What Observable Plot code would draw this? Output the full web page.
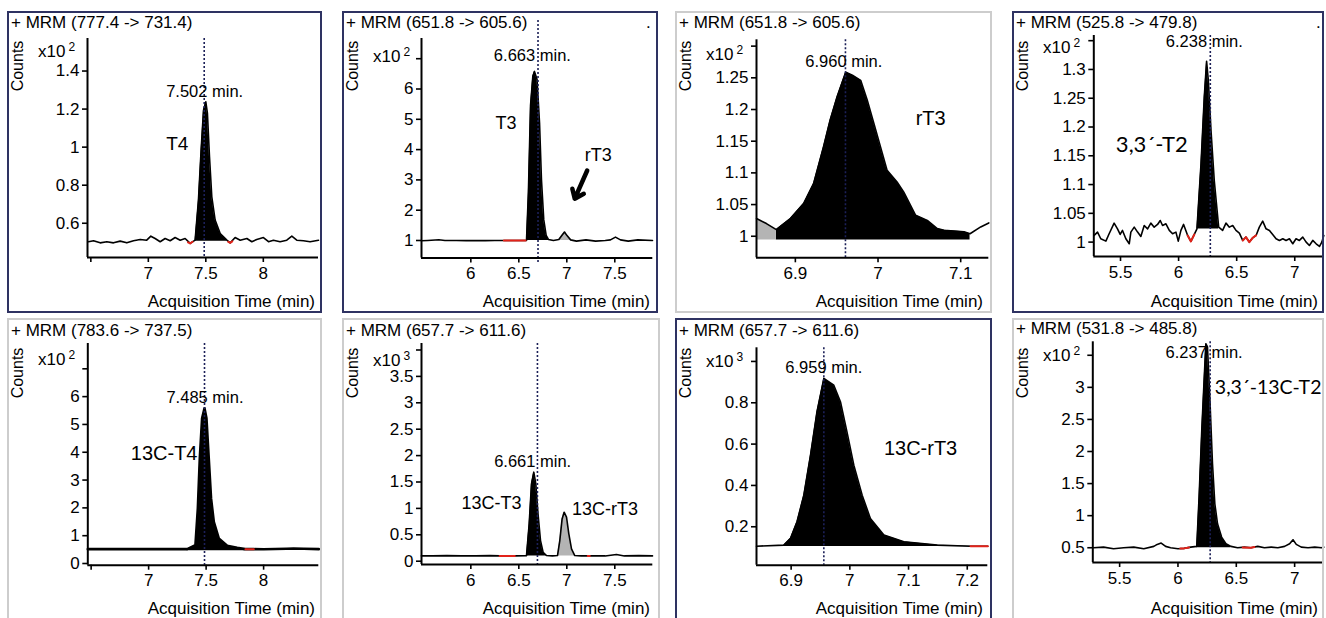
<!DOCTYPE html>
<html><head><meta charset="utf-8">
<script src="https://cdn.jsdelivr.net/npm/d3@7"></script>
<script src="https://cdn.jsdelivr.net/npm/@observablehq/plot@0.6"></script>
<style>
body{margin:0;background:#fff;width:1326px;height:618px;overflow:hidden;position:relative;font-family:"Liberation Sans",Arial,sans-serif;}
.plotwrap{position:absolute;}
.plotwrap svg{overflow:visible;}
.border{position:absolute;box-sizing:border-box;border:2px solid #cdcdcd;pointer-events:none;}
.border.dark{border-color:#2e3262;}
.txt{position:absolute;white-space:nowrap;color:#000;font-size:17px;line-height:17px;}
.counts{position:absolute;white-space:nowrap;font-size:16px;line-height:16px;transform:translate(-50%,-50%) rotate(-90deg);}
.sup{font-size:12px;position:relative;top:-6px;margin-left:3px;}
</style></head>
<body>
<script>
// ---------- text ----------
const headers = ["+ MRM (777.4 -> 731.4)","+ MRM (651.8 -> 605.6)","+ MRM (651.8 -> 605.6)","+ MRM (525.8 -> 479.8)",
                 "+ MRM (783.6 -> 737.5)","+ MRM (657.7 -> 611.6)","+ MRM (657.7 -> 611.6)","+ MRM (531.8 -> 485.8)"];
const exponents = ["2","2","2","2","2","3","3","2"];
const peakLabels = ["7.502 min.","6.663 min.","6.960 min.","6.238 min.","7.485 min.","6.661 min.","6.959 min.","6.237 min."];
const compounds = [["T4"],["T3","rT3"],["rT3"],["3,3´-T2"],["13C-T4"],["13C-T3","13C-rT3"],["13C-rT3"],["3,3´-13C-T2"]];
const axisTitle = "Acquisition Time (min)";

// ---------- data: [time (min), counts] ----------
const p1Trace = [[6.480,0.503],[6.523,0.508],[6.581,0.497],[6.639,0.503],[6.697,0.497],[6.755,0.506],[6.813,0.497],[6.871,0.508],[6.929,0.515],[6.986,0.511],[7.022,0.532],[7.059,0.520],[7.103,0.503],[7.146,0.520],[7.190,0.508],[7.233,0.525],[7.277,0.511],[7.320,0.520],[7.364,0.494],[7.407,0.511],[7.436,0.722],[7.459,0.984],[7.480,1.194],[7.500,1.238],[7.514,1.177],[7.532,0.949],[7.552,0.739],[7.581,0.617],[7.625,0.546],[7.683,0.511],[7.712,0.497],[7.755,0.525],[7.799,0.511],[7.857,0.520],[7.900,0.503],[7.943,0.515],[8.001,0.525],[8.045,0.503],[8.088,0.511],[8.146,0.503],[8.204,0.511],[8.248,0.532],[8.291,0.511],[8.349,0.508],[8.407,0.503],[8.480,0.511]];
const p2Trace = [[5.486,0.99],[5.55,1.0],[5.667,1.022],[5.73,1.0],[5.85,1.0],[5.95,0.995],[6.05,1.0],[6.15,0.995],[6.25,1.0],[6.344,1.0],[6.45,0.998],[6.57,1.0],[6.58,1.0],[6.60,2.6],[6.622,5.45],[6.646,6.42],[6.663,6.58],[6.69,6.31],[6.716,4.88],[6.736,3.0],[6.76,1.68],[6.785,1.17],[6.81,1.03],[6.86,1.0],[6.917,1.03],[6.95,1.17],[6.976,1.28],[7.0,1.17],[7.04,1.02],[7.10,0.98],[7.2,1.02],[7.3,0.98],[7.40,1.0],[7.455,1.02],[7.507,1.11],[7.559,1.02],[7.64,0.98],[7.74,1.02],[7.893,1.0]];
const p3Trace = [[6.853,1.028],[6.865,1.02],[6.877,1.0105],[6.894,1.028],[6.910,1.0515],[6.922,1.083],[6.934,1.141],[6.942,1.183],[6.9505,1.220],[6.961,1.259],[6.969,1.254],[6.979,1.246],[6.987,1.2145],[6.995,1.178],[7.003,1.141],[7.011,1.104],[7.023,1.0857],[7.031,1.070],[7.0455,1.033],[7.0596,1.025],[7.0717,1.012],[7.0798,1.0095],[7.104,1.007],[7.1113,1.004],[7.1242,1.0147],[7.134,1.021]];
const p4Trace = [[5.273,1.0116],[5.302,1.0174],[5.330,1.0058],[5.374,1.0017],[5.402,1.0145],[5.445,1.033],[5.474,1.0231],[5.497,1.0133],[5.517,1.0203],[5.546,1.0058],[5.575,0.9971],[5.589,1.0174],[5.618,1.026],[5.647,1.0174],[5.675,1.0098],[5.704,1.0289],[5.733,1.0231],[5.761,1.033],[5.790,1.026],[5.819,1.0307],[5.842,1.0376],[5.862,1.0289],[5.891,1.0318],[5.920,1.0203],[5.948,1.0145],[5.977,1.0174],[5.997,1.0017],[6.020,1.0203],[6.043,1.0307],[6.078,1.0116],[6.106,1.0012],[6.135,1.0133],[6.158,1.0231],[6.193,1.136],[6.221,1.252],[6.241,1.314],[6.256,1.281],[6.279,1.194],[6.307,1.107],[6.345,1.026],[6.379,1.0203],[6.408,1.033],[6.437,1.026],[6.466,1.0289],[6.494,1.0203],[6.523,1.0156],[6.552,1.0029],[6.580,1.0087],[6.609,1.0],[6.638,1.0075],[6.667,1.0116],[6.695,1.026],[6.724,1.0365],[6.753,1.0231],[6.782,1.0203],[6.810,1.0133],[6.839,1.0058],[6.868,1.0029],[6.897,1.0058],[6.925,1.0029],[6.954,1.0058],[6.983,0.9971],[7.011,1.0058],[7.040,1.0029],[7.069,1.0087],[7.098,1.0],[7.126,0.9942],[7.155,1.0029],[7.184,0.9971],[7.213,0.9925],[7.233,1.0],[7.25,1.0116]];
const p5Trace = [[6.471,0.516],[6.8,0.516],[7.2,0.516],[7.335,0.516],[7.407,0.66],[7.428,1.98],[7.445,3.78],[7.465,5.22],[7.486,5.58],[7.503,5.22],[7.523,3.78],[7.543,2.34],[7.567,1.5],[7.61,0.9],[7.683,0.636],[7.77,0.564],[7.84,0.516],[7.915,0.516],[8.0,0.51],[8.2,0.53],[8.26,0.54],[8.35,0.53],[8.48,0.516]];
const p6Trace = [[5.485,0.10],[5.6,0.1],[5.75,0.105],[5.9,0.1],[6.05,0.1],[6.2,0.105],[6.30,0.1],[6.458,0.1],[6.58,0.105],[6.608,0.707],[6.632,1.465],[6.656,1.686],[6.677,1.465],[6.70,0.896],[6.726,0.39],[6.753,0.17],[6.788,0.107],[6.85,0.1],[6.903,0.107],[6.927,0.39],[6.951,0.80],[6.972,0.928],[6.997,0.833],[7.021,0.518],[7.049,0.234],[7.083,0.107],[7.15,0.1],[7.22,0.1],[7.24,0.1],[7.40,0.1],[7.517,0.126],[7.6,0.1],[7.75,0.105],[7.893,0.1]];
const p7Trace = [[6.841,0.106],[6.8875,0.111],[6.899,0.144],[6.910,0.224],[6.9216,0.353],[6.933,0.547],[6.944,0.756],[6.9557,0.918],[6.9727,0.885],[6.984,0.805],[6.995,0.66],[7.0068,0.498],[7.021,0.353],[7.035,0.24],[7.058,0.16],[7.092,0.127],[7.149,0.111],[7.2055,0.106],[7.235,0.106]];
const p8Trace = [[5.276,0.5],[5.362,0.51],[5.448,0.484],[5.534,0.5],[5.621,0.51],[5.707,0.484],[5.793,0.521],[5.822,0.552],[5.856,0.573],[5.894,0.521],[5.937,0.5],[6.0,0.484],[6.052,0.49],[6.109,0.51],[6.161,0.521],[6.181,1.29],[6.204,2.33],[6.224,3.11],[6.239,3.68],[6.253,3.63],[6.273,2.85],[6.296,1.81],[6.316,1.186],[6.339,0.874],[6.374,0.666],[6.411,0.562],[6.454,0.521],[6.511,0.5],[6.569,0.51],[6.626,0.5],[6.684,0.521],[6.741,0.5],[6.799,0.51],[6.856,0.5],[6.914,0.521],[6.957,0.562],[6.986,0.625],[7.014,0.552],[7.057,0.51],[7.115,0.5],[7.172,0.51],[7.23,0.5],[7.25,0.51]];
const traces = [p1Trace,p2Trace,p3Trace,p4Trace,p5Trace,p6Trace,p7Trace,p8Trace];

// integrated peak windows [start, end] and the fill floor (counts)
const blackPeaks = [[[7.407,7.683]],[[6.58,6.81]],[[6.877,7.1113]],[[6.158,6.345]],[[7.335,7.84]],[[6.58,6.788]],[[6.8875,7.2055]],[[6.161,6.454]]];
const grayPeaks  = [[],[[6.917,7.04]],[[6.853,6.877]],[],[],[[6.903,7.083]],[],[]];
const fillFloor  = [0.505,1.0,0.994,1.023,0.46,0.1,0.104,0.5];
// red integration markers
const redSegs = [
  [[[7.345,0.50],[7.364,0.494],[7.385,0.503]],[[7.695,0.502],[7.712,0.497],[7.73,0.505]]],
  [[[6.344,1.0],[6.57,1.0]]],
  [],
  [[[6.078,1.0116],[6.106,1.0012],[6.135,1.0133]],[[6.552,1.0029],[6.580,1.0087],[6.609,1.0],[6.638,1.0075],[6.667,1.0116]]],
  [[[7.842,0.516],[7.915,0.516]]],
  [[[6.30,0.1],[6.458,0.1]],[[7.218,0.1],[7.24,0.1]]],
  [[[7.2055,0.106],[7.235,0.106]]],
  [[[6.02,0.49],[6.052,0.49],[6.095,0.505]],[[6.555,0.505],[6.626,0.5],[6.655,0.51]]]
];
// retention-time marker (dotted line) as drawn
const markerTimes = [7.486,6.70,6.9606,6.273,7.486,6.694,6.9557,6.276];

// ---------- axes ----------
const xTicksList = [[6.5,7,7.5,8],[6,6.5,7,7.5],[6.9,7,7.1],[5.5,6,6.5,7],[6.5,7,7.5,8],[6,6.5,7,7.5],[6.9,7,7.1,7.2],[5.5,6,6.5,7]];
const xHidden = [[6.5],[],[],[],[6.5],[],[],[]];
const yTicksList = [[0.6,0.8,1,1.2,1.4],[1,2,3,4,5,6,7],[1,1.05,1.1,1.15,1.2,1.25,1.3],[1,1.05,1.1,1.15,1.2,1.25,1.3,1.35],
                    [0,1,2,3,4,5,6,7],[0,0.5,1,1.5,2,2.5,3,3.5,4],[0.2,0.4,0.6,0.8,1.0],[0.5,1,1.5,2,2.5,3,3.5]];
const yHidden = [[],[7],[1.3],[1.35],[7],[4],[1.0],[3.5]];
const xDomains = [[6.471,8.48],[5.486,7.896],[6.853,7.134],[5.27,7.25],[6.471,8.48],[5.486,7.896],[6.841,7.235],[5.27,7.25]];
const yDomains = [[0.42,1.571],[0.422,7.667],[0.966,1.31],[0.975,1.359],[-0.061,7.91],[-0.0625,4.123],[0.014,1.066],[0.27,3.71]];

// ---------- layout (pixels) ----------
const layout = [
  {box:[7,11,315,302], dark:true,  frame:[87,318,38,257],      hdr:28,  x10:57,  axR:315,  axB:307},
  {box:[342,11,316,302],dark:true, frame:[421,652.3,38,257.5], hdr:28,  x10:62,  axR:650,  axB:307},
  {box:[675,11,317,302],dark:false,frame:[756,988.3,39.3,257.3],hdr:28, x10:60,  axR:983,  axB:307},
  {box:[1012,11,312,302],dark:true,frame:[1093.3,1323.3,35,256],hdr:28, x10:53,  axR:1318, axB:307},
  {box:[7,318,315,302], dark:false,frame:[87.3,318.3,343,564.7],hdr:336,x10:365, axR:315,  axB:614.5},
  {box:[342,318,318,302],dark:false,frame:[421,652.3,343,564],  hdr:336,x10:366, axR:650,  axB:614.5},
  {box:[675,318,317,302],dark:true,frame:[756,987.3,347.3,564.7],hdr:336,x10:367,axR:983,  axB:614.5},
  {box:[1012,318,312,302],dark:false,frame:[1092.3,1323.3,341.3,562],hdr:334,x10:361,axR:1318,axB:614.5}
];
// peak-time label anchors [time, counts] and compound label anchors, with font sizes
const peakLabelPos = [[7.155,1.263],[6.24,6.92],[6.912,1.267],[5.89,1.3385],[7.155,5.76],[6.243,1.78],[6.890,0.942],[5.894,3.45]];
const compoundPos = [
  [[7.155,0.984,19,0]],
  [[6.257,4.69,18,0],[7.1875,3.64,18,0]],
  [[7.0455,1.175,20,0]],
  [[5.46,1.156,22,1]],
  [[6.845,3.72,20,0]],
  [[5.903,0.99,18,0],[7.055,0.866,18,0]],
  [[7.058,0.546,20,0]],
  [[6.316,2.90,19.5,1]]
];
const arrowP2 = [{x1:7.2125,y1:3.31,x2:7.083,y2:2.38}];
const dotsTop = [null,[646,28],null,[1316,28],null,null,null,null];

const SANS = '"Liberation Sans", Arial, sans-serif';
const LATO = 'Lato, "Open Sans", sans-serif';

function addDiv(cls, html, css){
  const d = document.createElement("div");
  d.className = cls; d.innerHTML = html;
  Object.assign(d.style, css);
  document.body.appendChild(d);
  return d;
}

layout.forEach((L, i) => {
  const [bx, by, bw, bh] = L.box;
  const [fx0, fx1, fy0, fy1] = L.frame;
  const tr = traces[i];
  const win = (w) => tr.filter(d => d[0] >= w[0] - 1e-9 && d[0] <= w[1] + 1e-9);
  const fmt = hide => d => hide.some(h => Math.abs(h - d) < 1e-9) ? "" : String(d);
  const X = d => d[0], Y = d => d[1];
  const marks = [];
  blackPeaks[i].forEach(w => marks.push(Plot.areaY(win(w), {x: X, y1: fillFloor[i], y2: Y, fill: "#000"})));
  grayPeaks[i].forEach(w => marks.push(Plot.areaY(win(w), {x: X, y1: fillFloor[i], y2: Y, fill: "#b4b4b4"})));
  marks.push(Plot.line(tr, {x: X, y: Y, stroke: "#000", strokeWidth: i === 4 ? 2.6 : 1.6}));
  redSegs[i].forEach(s => marks.push(Plot.line(s, {x: X, y: Y, stroke: "#e2231a", strokeWidth: 2})));
  const ruleOpts = {stroke: "#1c2058", strokeWidth: 1.6, strokeDasharray: "2,2"};
  if (i === 1) { ruleOpts.y1 = 0.27; ruleOpts.y2 = 8.33; }
  marks.push(Plot.ruleX([markerTimes[i]], ruleOpts));
  marks.push(Plot.ruleY([yDomains[i][0]], {stroke: "#000", strokeWidth: 2}));
  marks.push(Plot.ruleX([xDomains[i][0]], {stroke: "#000", strokeWidth: 2}));
  marks.push(Plot.axisX({ticks: xTicksList[i], tickFormat: fmt(xHidden[i]), tickSize: 5, tickPadding: 4, label: null, fontSize: 17, strokeWidth: 1.6}));
  marks.push(Plot.axisY({ticks: yTicksList[i], tickFormat: fmt(yHidden[i]), tickSize: 5, tickPadding: 3, label: null, fontSize: 17, strokeWidth: 1.6}));
  marks.push(Plot.text([peakLabels[i]], {x: peakLabelPos[i][0], y: peakLabelPos[i][1], text: d => d, textAnchor: "start", lineAnchor: "bottom", fontSize: 16.5, fill: "#000"}));
  compoundPos[i].forEach((c, k) => {
    marks.push(Plot.text([compounds[i][k]], {x: c[0], y: c[1], text: d => d, textAnchor: "start", lineAnchor: "bottom",
      fontSize: c[2], fontFamily: c[3] ? LATO : SANS, fill: "#000"}));
  });
  if (i === 1) marks.push(Plot.arrow(arrowP2, {x1: "x1", y1: "y1", x2: "x2", y2: "y2", stroke: "#000", strokeWidth: 4.5, headLength: 9, headAngle: 75}));

  const svg = Plot.plot({
    width: bw, height: bh,
    marginLeft: fx0 - bx, marginRight: bx + bw - fx1, marginTop: fy0 - by, marginBottom: by + bh - fy1,
    x: {domain: xDomains[i]}, y: {domain: yDomains[i]},
    style: {background: "transparent", fontFamily: SANS, fontSize: "17px", color: "#000", overflow: "visible"},
    marks
  });
  const wrap = addDiv("plotwrap", "", {left: bx + "px", top: by + "px", width: bw + "px", height: bh + "px"});
  wrap.appendChild(svg);

  addDiv("border" + (L.dark ? " dark" : ""), "", {left: bx + "px", top: by + "px", width: bw + "px", height: bh + "px"});
  addDiv("txt", headers[i], {left: (bx + 4) + "px", top: (L.hdr - 14.4) + "px"});
  addDiv("counts", "Counts", {left: (bx + 10.5) + "px", top: (by + 55) + "px"});
  addDiv("txt", 'x10<span class="sup">' + exponents[i] + '</span>', {left: (bx + 31) + "px", top: (L.x10 - 14.4) + "px"});
  addDiv("txt", axisTitle, {left: L.axR + "px", top: (L.axB - 14.4) + "px", transform: "translateX(-100%)"});
  if (dotsTop[i]) addDiv("txt", ".", {left: dotsTop[i][0] + "px", top: (dotsTop[i][1] - 14.4) + "px"});
});
</script>
</body></html>
